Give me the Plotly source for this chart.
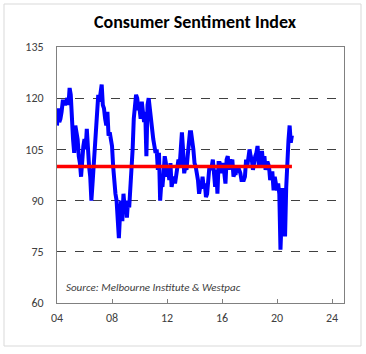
import plotly.graph_objects as go

# ---- data (monthly index, Jan 2004 .. Feb 2021) ----
start_year = 2004
csi_2004 = [112, 117, 113, 114, 116, 119, 119, 118, 119, 120, 118, 123]
csi_2005 = [121, 112, 108, 104, 112, 110, 108, 103, 101, 97, 104, 106]
csi_2006 = [108, 105, 111, 104, 100, 97, 90, 95, 101, 107, 112, 117]
csi_2007 = [121, 119, 123, 124, 118, 117, 114, 112, 116, 109, 110, 108]
csi_2008 = [106, 100, 95, 92, 90, 86, 79, 86, 90, 84, 92, 88]
csi_2009 = [90, 85, 90, 88, 93, 98, 105, 114, 118, 121, 120, 117]
csi_2010 = [117, 114, 119, 116, 113, 116, 103, 118, 120, 117, 113, 110]
csi_2011 = [108, 106, 104, 105, 99, 104, 90, 95, 94, 98, 103, 101]
csi_2012 = [97, 99, 96, 101, 94, 96, 97, 95, 98, 100, 102, 100]
csi_2013 = [104, 110, 105, 98, 100, 99, 103, 106, 110, 110, 108, 105]
csi_2014 = [101, 100, 98, 96, 92, 94, 94, 97, 94, 95, 91, 92]
csi_2015 = [96, 100, 99, 100, 102, 96, 94, 99, 92, 101, 101, 100]
csi_2016 = [98, 101, 96, 95, 102, 103, 99, 102, 101, 102, 97, 98]
csi_2017 = [98, 100, 99, 99, 98, 96, 96, 96, 97, 102, 100, 103]
csi_2018 = [105, 103, 102, 99, 102, 103, 104, 106, 101, 101, 104, 104]
csi_2019 = [100, 103, 99, 101, 101, 100, 96, 98, 98, 93, 97, 95]
csi_2020 = [93, 95, 91.9, 75.6, 88.1, 93.7, 87.9, 79.5, 93.8, 105.0, 107.7, 112.0]
csi_2021 = [107.0, 109.1]

average_level = 100
x_tick_years = [2004, 2008, 2012, 2016, 2020, 2024]
x_tick_labels = ["04", "08", "12", "16", "20", "24"]
y_ticks = [60, 75, 90, 105, 120, 135]

yearly = [csi_2004, csi_2005, csi_2006, csi_2007, csi_2008, csi_2009, csi_2010,
          csi_2011, csi_2012, csi_2013, csi_2014, csi_2015, csi_2016, csi_2017,
          csi_2018, csi_2019, csi_2020, csi_2021]

dates, values = [], []
for i, yr in enumerate(yearly):
    for m, v in enumerate(yr):
        dates.append(start_year + i + m / 12)
        values.append(v)

fig = go.Figure()
fig.add_trace(go.Scatter(x=dates, y=values, mode="lines",
                         line=dict(color="#0000FF", width=4), showlegend=False,
                         hoverinfo="skip"))
fig.add_trace(go.Scatter(x=[dates[0], dates[-1]], y=[average_level, average_level],
                         mode="lines", line=dict(color="#FF0000", width=3.5),
                         showlegend=False, hoverinfo="skip"))

font_family = "Carlito, Calibri, Lato, sans-serif"

fig.update_layout(
    width=366, height=354,
    margin=dict(l=57, r=22, t=47, b=51),
    paper_bgcolor="white", plot_bgcolor="white",
    font=dict(family=font_family, size=12, color="#404040"),
    title=dict(text="<b>Consumer Sentiment Index</b>", x=195 / 366, xref="container",
               xanchor="center", y=1 - 22 / 354, yref="container", yanchor="middle",
               font=dict(size=18, color="#000000", family=font_family)),
    xaxis=dict(range=[2004, 2024.87], tickvals=x_tick_years, ticktext=x_tick_labels,
               ticks="inside", ticklen=4, tickcolor="#808080", showgrid=False,
               showline=True, linecolor="#808080", linewidth=1, mirror=True,
               zeroline=False, ticklabelstandoff=4,
               tickfont=dict(size=12, color="#404040")),
    yaxis=dict(range=[60, 135], tickvals=y_ticks, ticks="", showgrid=True,
               gridcolor="#404040", gridwidth=1, griddash="dash",
               showline=True, linecolor="#808080", linewidth=1, mirror=True,
               zeroline=False, ticklabelstandoff=10,
               tickfont=dict(size=12, color="#404040")),
    annotations=[dict(text="<i>Source: Melbourne Institute &amp; Westpac</i>",
                      xref="paper", yref="paper", x=0.024, y=(303 - 287) / 256,
                      xanchor="left", yanchor="middle", showarrow=False,
                      font=dict(size=11, color="#404040", family=font_family))],
    shapes=[dict(type="rect", xref="paper", yref="paper",
                 x0=(4 - 57) / 287, x1=(361 - 57) / 287,
                 y0=(303 - 346) / 256, y1=(303 - 4) / 256,
                 line=dict(color="#d9d9d9", width=1), fillcolor="rgba(0,0,0,0)",
                 layer="below")],
)

fig.write_html("out.html")
